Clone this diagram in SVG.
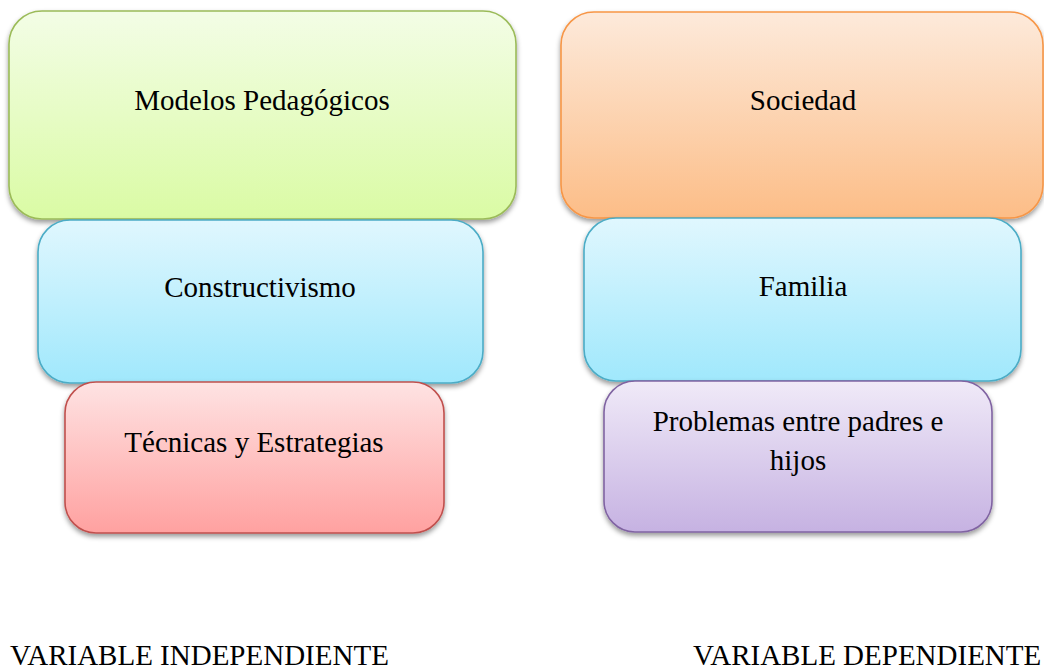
<svg xmlns="http://www.w3.org/2000/svg" width="1044" height="668" viewBox="0 0 1044 668">
<defs>
<linearGradient id="gGreen" x1="0" y1="0" x2="0" y2="1"><stop offset="0" stop-color="#f3fde6"/><stop offset="1" stop-color="#dafba4"/></linearGradient>
<linearGradient id="gOrange" x1="0" y1="0" x2="0" y2="1"><stop offset="0" stop-color="#fdeadb"/><stop offset="1" stop-color="#fcbd87"/></linearGradient>
<linearGradient id="gCyan" x1="0" y1="0" x2="0" y2="1"><stop offset="0" stop-color="#e0f7fe"/><stop offset="1" stop-color="#a0e8fc"/></linearGradient>
<linearGradient id="gRed" x1="0" y1="0" x2="0" y2="1"><stop offset="0" stop-color="#fee3e3"/><stop offset="1" stop-color="#ffa1a0"/></linearGradient>
<linearGradient id="gPurple" x1="0" y1="0" x2="0" y2="1"><stop offset="0" stop-color="#f0eaf8"/><stop offset="1" stop-color="#c6b2e2"/></linearGradient>
<filter id="shadow" x="-10%" y="-10%" width="120%" height="130%">
<feDropShadow dx="0" dy="3" stdDeviation="2.5" flood-color="#000" flood-opacity="0.4"/>
</filter>
</defs>
<style>
.box{stroke-width:1.6;filter:url(#shadow)}
.t{font-family:"Liberation Serif","Times New Roman",serif;font-size:29px;fill:#000;text-anchor:middle}
.lbl{font-family:"Liberation Serif","Times New Roman",serif;font-size:29px;fill:#000}
</style>
<g id="connectors"></g>
<g id="modelos">
<rect class="box" x="9" y="11" width="507" height="208" rx="33" fill="url(#gGreen)" stroke="#9bbb59"/>
<text class="t" x="262" y="110">Modelos Pedagógicos</text>
</g>
<g id="constructivismo">
<rect class="box" x="38" y="220" width="445" height="163" rx="32" fill="url(#gCyan)" stroke="#4bacc6"/>
<text class="t" x="260" y="297">Constructivismo</text>
</g>
<g id="tecnicas">
<rect class="box" x="65" y="382" width="379" height="151" rx="31" fill="url(#gRed)" stroke="#c0504d"/>
<text class="t" x="254" y="452">Técnicas y Estrategias</text>
</g>
<g id="sociedad">
<rect class="box" x="561" y="12" width="482" height="206" rx="33" fill="url(#gOrange)" stroke="#f79646"/>
<text class="t" x="803" y="110">Sociedad</text>
</g>
<g id="familia">
<rect class="box" x="584" y="218" width="437" height="163" rx="32" fill="url(#gCyan)" stroke="#4bacc6"/>
<text class="t" x="803" y="296">Familia</text>
</g>
<g id="problemas">
<rect class="box" x="604" y="381" width="388" height="151" rx="31" fill="url(#gPurple)" stroke="#8064a2"/>
<text class="t" x="798" y="431">Problemas entre padres e</text>
<text class="t" x="798" y="470">hijos</text>
</g>
<g id="labels">
<text class="lbl" x="10" y="665">VARIABLE INDEPENDIENTE</text>
<text class="lbl" x="693" y="665">VARIABLE DEPENDIENTE</text>
</g>
</svg>
